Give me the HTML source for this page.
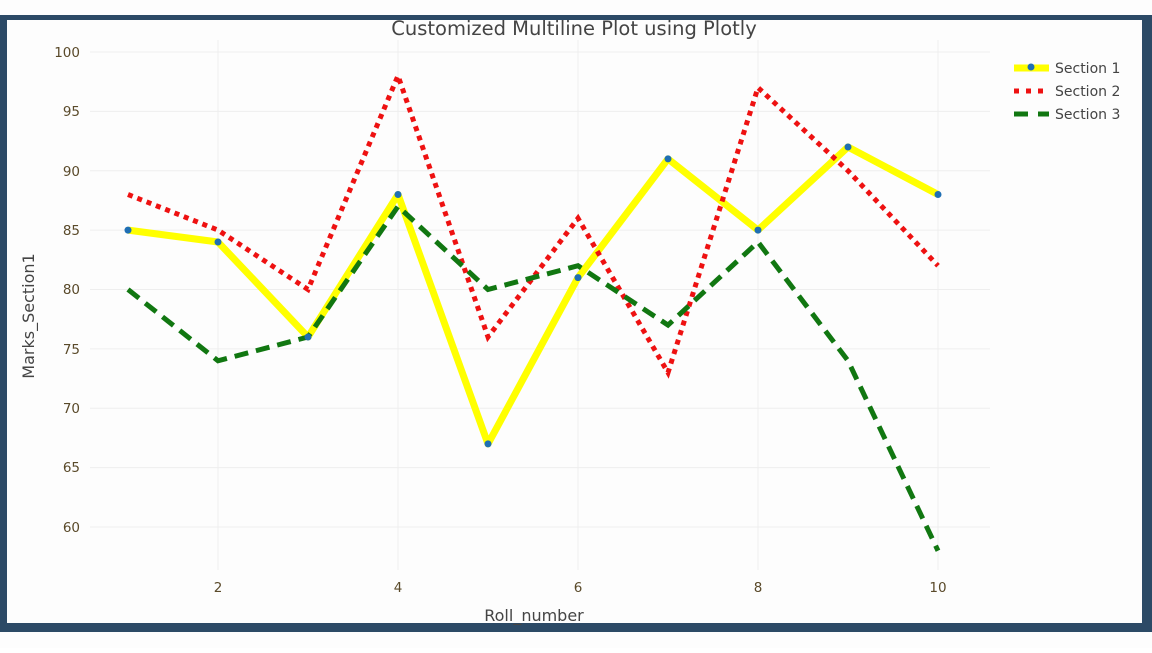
<!DOCTYPE html>
<html><head><meta charset="utf-8"><style>
html,body{margin:0;padding:0;background:#fff;}
</style></head><body>
<svg width="1152" height="648" xmlns="http://www.w3.org/2000/svg" font-family="'DejaVu Sans', 'Liberation Sans', sans-serif">
<rect x="0" y="0" width="1152" height="648" fill="#fdfdfd"/>
<rect x="0" y="15" width="1152" height="617" fill="#2c4a66"/>
<rect x="7" y="20" width="1135" height="603" fill="#fdfdfd"/>
<g stroke="#eeeeee" stroke-width="1">
<line x1="90" x2="990" y1="52" y2="52"/><line x1="90" x2="990" y1="111.4" y2="111.4"/>
<line x1="90" x2="990" y1="170.75" y2="170.75"/><line x1="90" x2="990" y1="230.1" y2="230.1"/>
<line x1="90" x2="990" y1="289.5" y2="289.5"/><line x1="90" x2="990" y1="348.9" y2="348.9"/>
<line x1="90" x2="990" y1="408.25" y2="408.25"/><line x1="90" x2="990" y1="467.6" y2="467.6"/>
<line x1="90" x2="990" y1="527" y2="527"/>
<line x1="218" x2="218" y1="40" y2="570"/><line x1="398" x2="398" y1="40" y2="570"/>
<line x1="578" x2="578" y1="40" y2="570"/><line x1="758" x2="758" y1="40" y2="570"/>
<line x1="938" x2="938" y1="40" y2="570"/>
</g>
<g font-size="13.5" fill="#5a4a2a" text-anchor="end">
<text x="80" y="57">100</text><text x="80" y="116">95</text><text x="80" y="176">90</text>
<text x="80" y="235">85</text><text x="80" y="294">80</text><text x="80" y="354">75</text>
<text x="80" y="413">70</text><text x="80" y="472">65</text><text x="80" y="532">60</text>
</g>
<g font-size="13.5" fill="#5a4a2a" text-anchor="middle">
<text x="218" y="592">2</text><text x="398" y="592">4</text><text x="578" y="592">6</text>
<text x="758" y="592">8</text><text x="938" y="592">10</text>
</g>
<text x="534" y="621" font-size="16" fill="#444" text-anchor="middle">Roll_number</text>
<text x="34" y="316" font-size="16" fill="#444" text-anchor="middle" transform="rotate(-90 34 316)">Marks_Section1</text>
<text x="574" y="35" font-size="19.5" fill="#444" text-anchor="middle">Customized Multiline Plot using Plotly</text>
<polyline fill="none" stroke="#ffff00" stroke-width="7" stroke-linejoin="round" points="128,230.1 218,242 308,337 398,194.5 488,443.9 578,277.6 668,158.9 758,230.1 848,147 938,194.5"/>
<polyline fill="none" stroke="#ee1111" stroke-width="5" stroke-dasharray="5,5" points="128,194.5 218,230.1 308,289.5 398,75.75 488,337 578,218.25 668,372.6 758,87.6 848,170.75 938,265.75"/>
<polyline fill="none" stroke="#117711" stroke-width="5" stroke-dasharray="14,8" points="128,289.5 218,360.75 308,337 398,206.4 488,289.5 578,265.75 668,325.1 758,242 848,360.75 938,550.75"/>
<g fill="#1f6fb4">
<circle cx="128" cy="230.1" r="3.5"/><circle cx="218" cy="242" r="3.5"/><circle cx="308" cy="337" r="3.5"/>
<circle cx="398" cy="194.5" r="3.5"/><circle cx="488" cy="443.9" r="3.5"/><circle cx="578" cy="277.6" r="3.5"/>
<circle cx="668" cy="158.9" r="3.5"/><circle cx="758" cy="230.1" r="3.5"/><circle cx="848" cy="147" r="3.5"/>
<circle cx="938" cy="194.5" r="3.5"/>
</g>
<line x1="1014" x2="1049" y1="68" y2="68" stroke="#ffff00" stroke-width="7"/>
<circle cx="1031" cy="67" r="3.5" fill="#1f6fb4"/>
<line x1="1014" x2="1049" y1="91" y2="91" stroke="#ee1111" stroke-width="5" stroke-dasharray="5,7"/>
<line x1="1014" x2="1049" y1="114" y2="114" stroke="#117711" stroke-width="5" stroke-dasharray="14,10"/>
<g font-size="14" fill="#444">
<text x="1055" y="73">Section 1</text><text x="1055" y="96">Section 2</text><text x="1055" y="119">Section 3</text>
</g>
</svg>
</body></html>
